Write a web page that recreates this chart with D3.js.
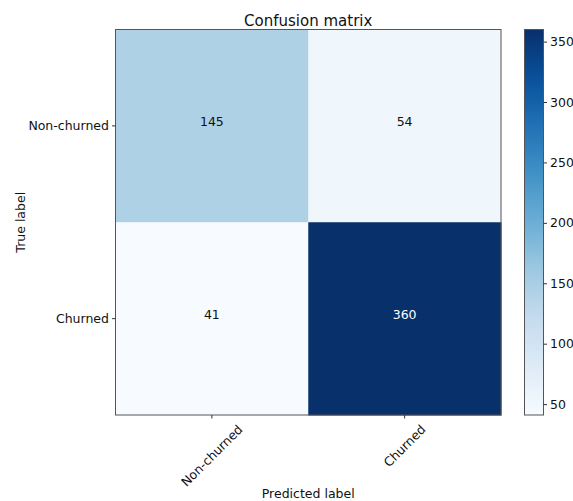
<!DOCTYPE html>
<html>
<head>
<meta charset="utf-8">
<script src="https://cdn.jsdelivr.net/npm/d3@7"></script>
<style>
  html, body { margin: 0; padding: 0; background: #fff; }
  svg text { font-family: "DejaVu Sans", sans-serif; fill: #111; }
</style>
</head>
<body>
<svg id="chart" width="573" height="501"></svg>
<script>
// Class labels (rows = true, columns = predicted)
const classes = ["Non-churned", "Churned"];
// Confusion matrix counts, row by row
const rowNonChurned = [145, 54];
const rowChurned = [41, 360];
const colorbarTicks = [50, 100, 150, 200, 250, 300, 350];

const matrix = [rowNonChurned, rowChurned];
const cells = [];
matrix.forEach((row, i) => row.forEach((v, j) => cells.push({ i, j, v })));

const allVals = cells.map(d => d.v);
const vmin = d3.min(allVals), vmax = d3.max(allVals);

// Linear "Blues" colour ramp (ColorBrewer anchors)
const bluesStops = ["#f7fbff", "#deebf7", "#c6dbef", "#9ecae1", "#6baed6",
                    "#4292c6", "#2171b5", "#08519c", "#08306b"];
const blues = d3.scaleLinear()
  .domain(bluesStops.map((_, k) => k / (bluesStops.length - 1)))
  .range(bluesStops)
  .interpolate(d3.interpolateRgb);
const color = v => blues((v - vmin) / (vmax - vmin));

const FS = 12.5;
const svg = d3.select("#chart");
const plot = { left: 115.5, top: 29.5, size: 385.5 };

const x = d3.scaleBand().domain(d3.range(classes.length)).range([plot.left, plot.left + plot.size]);
const y = d3.scaleBand().domain(d3.range(classes.length)).range([plot.top, plot.top + plot.size]);

// Heatmap cells
svg.append("g").selectAll("rect").data(cells).join("rect")
  .attr("x", d => x(d.j))
  .attr("y", d => y(d.i))
  .attr("width", x.bandwidth() + 0.5)
  .attr("height", y.bandwidth() + 0.5)
  .attr("fill", d => color(d.v));

// Cell counts, baseline on the cell centre
const thresh = vmax / 2;
svg.append("g").selectAll("text").data(cells).join("text")
  .attr("x", d => x(d.j) + x.bandwidth() / 2)
  .attr("y", d => y(d.i) + y.bandwidth() / 2)
  .attr("text-anchor", "middle")
  .style("font-size", FS + "px")
  .style("fill", d => d.v > thresh ? "#fff" : "#111")
  .text(d => d.v);

// Frame
svg.append("rect")
  .attr("x", plot.left).attr("y", plot.top)
  .attr("width", plot.size).attr("height", plot.size)
  .attr("fill", "none").attr("stroke", "#555").attr("stroke-width", 1);

// X axis: class names rotated 45°, rotated box centred under each tick
const tickLen = 3.5, tickPad = 3.5;
const xAxis = svg.append("g")
  .attr("transform", `translate(0,${plot.top + plot.size})`)
  .call(d3.axisBottom(x).tickSize(tickLen).tickFormat(k => classes[k]));
xAxis.select(".domain").remove();
xAxis.selectAll("line").attr("stroke", "#333");
xAxis.selectAll("text")
  .style("font-size", FS + "px")
  .attr("text-anchor", "middle")
  .attr("dy", "0.35em")
  .attr("y", 0)
  .each(function () {
    const w = this.getComputedTextLength();
    const h = FS * 1.17;
    const half = (w + h) * Math.SQRT1_2 / 2;
    d3.select(this).attr("transform",
      `translate(0,${tickLen + tickPad + half}) rotate(-45)`);
  });

// Y axis
const yAxis = svg.append("g")
  .attr("transform", `translate(${plot.left},0)`)
  .call(d3.axisLeft(y).tickSize(tickLen).tickPadding(3).tickFormat(k => classes[k]));
yAxis.select(".domain").remove();
yAxis.selectAll("line").attr("stroke", "#333");
yAxis.selectAll("text").style("font-size", FS + "px");

// Title and axis labels
svg.append("text")
  .attr("x", plot.left + plot.size / 2).attr("y", 25.5)
  .attr("text-anchor", "middle").style("font-size", "15px")
  .text("Confusion matrix");
svg.append("text")
  .attr("x", plot.left + plot.size / 2).attr("y", 498)
  .attr("text-anchor", "middle").style("font-size", FS + "px")
  .text("Predicted label");
svg.append("text")
  .attr("transform", `translate(24.5,${plot.top + plot.size / 2}) rotate(-90)`)
  .attr("text-anchor", "middle").style("font-size", FS + "px")
  .text("True label");

// Colorbar
const cb = { left: 524.5, width: 19 };
const cbScale = d3.scaleLinear().domain([vmin, vmax]).range([plot.top + plot.size, plot.top]);
const grad = svg.append("defs").append("linearGradient")
  .attr("id", "cbgrad").attr("x1", 0).attr("y1", 1).attr("x2", 0).attr("y2", 0);
d3.range(0, 1.0001, 0.05).forEach(t => {
  grad.append("stop").attr("offset", t).attr("stop-color", blues(t));
});
svg.append("rect")
  .attr("x", cb.left).attr("y", plot.top)
  .attr("width", cb.width).attr("height", plot.size)
  .attr("fill", "url(#cbgrad)")
  .attr("stroke", "#555").attr("stroke-width", 1);
const cbAxis = svg.append("g")
  .attr("transform", `translate(${cb.left + cb.width},0)`)
  .call(d3.axisRight(cbScale).tickValues(colorbarTicks).tickSize(tickLen).tickPadding(3));
cbAxis.select(".domain").remove();
cbAxis.selectAll("line").attr("stroke", "#333");
cbAxis.selectAll("text").style("font-size", FS + "px");
</script>
</body>
</html>
